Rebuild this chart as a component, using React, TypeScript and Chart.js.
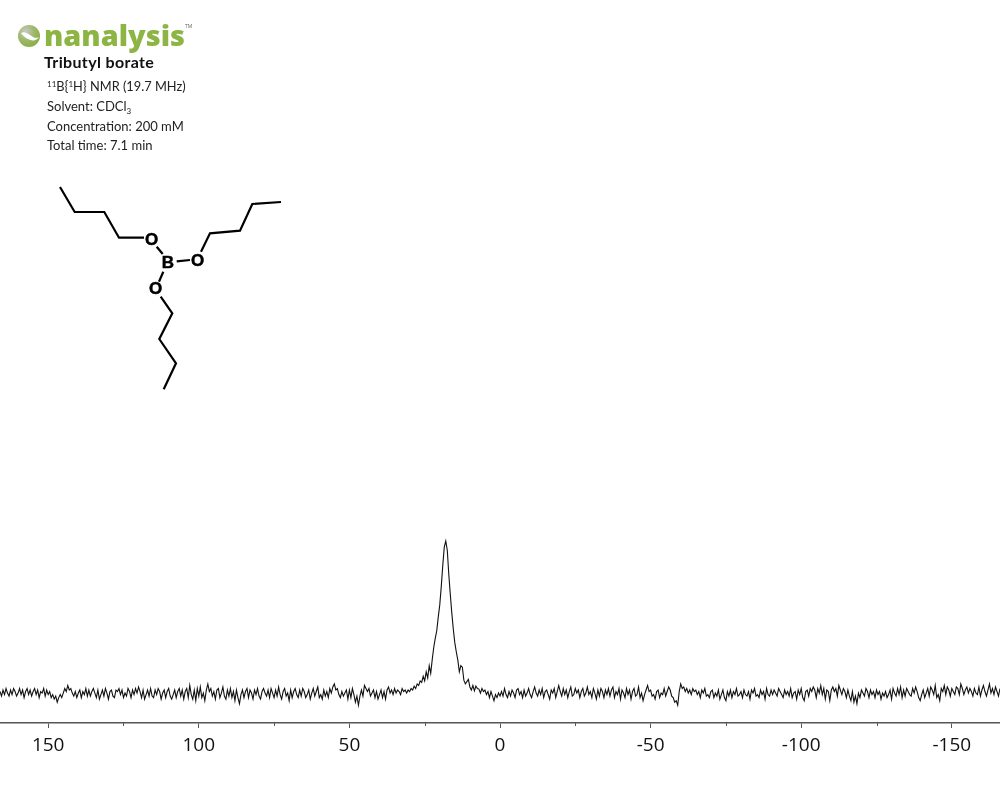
import React, { useEffect, useRef } from "react";
import { Chart, registerables } from "chart.js";

Chart.register(...registerables);

const majorTicks = [150, 100, 50, 0, -50, -100, -150];
const minorTicks = [125, 75, 25, -25, -75, -125];
const firstShift = 166;
const shiftStep = 0.5;

// Relative intensity, one value per 0.5 ppm, from 166 ppm to 31 ppm (main peak = 100)
const baselineLeft = [
  1, -2, 2, -1, 3, 0, -2, 2, -1, 3, 1, -2, 0, 3, -1, 2, -3, 1, 3, -1,
  2, -2, 1, 3, -1, 2, -3, 1, 0, 3, -2, 2, -1, 1, -3, -1, -4, -2, -6, -3,
  -1, -3, 0, 3, 1, 5, 2, 3, 0, -2, 1, -3, 0, 2, -3, 1, -1, 3, -2, 2,
  -2, 1, 3, 0, -3, 2, -4, -1, 2, -2, 3, 0, -4, 1, 2, -2, -3, 2, 1, 3,
  -1, 2, -3, 0, -2, 3, 1, -3, 2, -1, 3, 0, 4, 1, -3, 2, -4, -1, 2, -2,
  3, -2, -3, 2, -1, 3, 1, -4, 0, 2, -3, 1, 3, -2, -4, -1, 2, -3, 1, 3,
  -2, 2, -4, 1, 3, -3, 5, -1, -4, 2, -5, 3, -2, 4, -3, 0, -5, 2, 6, 1,
  3, -2, 1, -4, 2, 3, -3, 0, 4, -2, -4, 2, -2, 3, -3, 1, -5, 2, -3, -7,
  -1, 2, -3, 1, 3, -3, 2, 0, -4, 2, -1, 3, -2, -4, 1, 3, 0, -2, 2, -3,
  3, 0, -3, 2, -2, 4, -1, -4, 1, 3, -2, 0, -5, 2, -3, 1, 3, -1, -3, 2,
  -2, 3, 1, -3, -1, 2, -4, 0, 3, -2, 1, 4, -3, -1, -4, 2, -2, 1, -3, 3,
  0, 4, 6, 2, 3, -1, -3, 1, -2, 0, 2, -4, 2, -3, 3, -1, -6, -2, -8, -2,
  2, -2, 5, 3, 1, 3, -2, 0, 2, -3, 1, -4, -1, 2, -3, 1, -4, 2, 4, 0,
  2, -1, 3, 0, 2, 1, -1, 3, 1, 2, 0,
];

// 30.5 ppm to 0 ppm
const mainPeak = [
  2, 1, 3, 2, 4.5, 3, 6, 5, 8, 7, 11, 8, 14, 10, 18, 13,
  22, 30, 36, 41, 50, 58, 70, 84, 96, 100, 94, 78, 65, 52.6, 42, 33,
  27, 21.7, 14, 18, 17, 8.5, 6, 7.5, 9, 4, 2, 5, 1.5, 4.6, 3, 2.6,
  0, 3, 1, 2, -1, 1, -3, 1, -2, -5, -1, -3, 0, -2,
];

// -0.5 ppm to -166 ppm
const baselineRight = [
  1, -2, 3, -1, -3, 1, -2, 2, 0, -3, 2, 3, -1, 1, -3, 2, -2, 0, 3, -1,
  -3, 1, 4, 0, -2, 2, -1, 3, -3, 1, 2, -1, -4, 2, 0, 3, -3, 1, 5, 1,
  -2, 3, -1, 2, -3, 1, 4, -2, -1, 3, 0, 2, -3, 1, 3, -2, 0, 4, -1, 1,
  -3, 3, 0, -4, 2, -2, 3, 1, -3, 2, -1, 3, -2, 2, 4, -3, 1, -1, 3, -4,
  2, 0, -3, 3, -1, 2, -4, 1, 3, -2, -1, 4, -3, 0, -5, -1, 2, 5, 1, 2,
  -2, -1, -4, 1, 2, -3, 0, -1, 3, -2, 1, 4, 2, -2, -3, -6, -5, -8, 1, 6,
  3, 4, 1, 3, 0, 2, -1, 3, 1, 2, -1, 1, -3, 2, 0, 3, -2, -1, -3, 1,
  2, -3, 0, -2, 2, -4, -1, 2, -3, -5, 1, -2, 2, -3, 1, -1, 3, -2, -1, 1,
  -3, 2, -1, -2, 1, -4, 2, 0, 3, -2, -1, -3, 2, -1, 1, -4, 3, -1, -2, 2,
  -1, 2, 0, -2, 3, 1, -1, -3, 2, -1, 1, -2, 3, -3, 0, 1, -4, 2, -1, 3,
  -3, -5, 1, 2, -2, 3, 1, 4, 2, -3, 3, 0, 5, -1, 3, -4, 2, 1, -5, 2,
  4, 1, 3, -2, 5, 2, -1, 3, 1, -3, 2, -2, -5, 1, -6, -2, -7, 0, -3, 2,
  0, -2, 3, 1, -3, 2, -1, 1, -3, 2, -1, 1, -4, 0, -2, 1, -3, -1, 2, -4,
  3, 0, -2, 3, -1, 4, -3, 2, -2, 3, 1, -1, -2, 3, 0, 4, 1, -3, -5, -1,
  2, -3, 0, 3, -2, 4, 2, -1, 5, -3, -1, -5, 3, 1, 5, -1, 4, 2, -2, 3,
  1, -1, 4, 3, -1, 6, 3, -1, 2, 4, 0, 3, 1, -2, 3, 0, -1, 4, -2, 2,
  5, 1, -2, 2, 6, 0, 3, -1, 4, 1, -2, 3,
];

const intensity = [...baselineLeft, ...mainPeak, ...baselineRight];

const TITLE = "Tributyl borate";

function Atom({ x, y, t }: { x: number; y: number; t: string }) {
  return (
    <text x={x} y={y} textAnchor="middle" dominantBaseline="central"
      fontFamily="'Liberation Sans'" fontWeight="700" fontSize="17" fill="#000" stroke="#000" strokeWidth={0.5}>{t}</text>
  );
}

export default function App() {
  const ref = useRef<HTMLCanvasElement | null>(null);

  useEffect(() => {
    document.body.style.margin = "0";
    const minorTickPlugin = {
      id: "minorTicks",
      afterDraw(chart: any) {
        const { ctx, scales, chartArea } = chart;
        ctx.save();
        ctx.strokeStyle = "#555";
        ctx.lineWidth = 1;
        minorTicks.forEach((v) => {
          const px = Math.round(scales.x.getPixelForValue(v)) + 0.5;
          ctx.beginPath();
          ctx.moveTo(px, chartArea.bottom);
          ctx.lineTo(px, chartArea.bottom + 3);
          ctx.stroke();
        });
        ctx.restore();
      },
    };
    const chart = new Chart(ref.current as HTMLCanvasElement, {
      type: "line",
      data: {
        datasets: [
          {
            label: TITLE,
            data: intensity.map((y, i) => ({ x: firstShift - i * shiftStep, y })),
            borderColor: "#111",
            borderWidth: 1.1,
            pointRadius: 0,
            tension: 0,
          },
        ],
      },
      options: {
        animation: false,
        responsive: false,
        parsing: false,
        layout: { padding: 0 },
        plugins: { legend: { display: false }, tooltip: { enabled: false }, title: { display: false } },
        scales: {
          x: {
            type: "linear",
            reverse: true,
            min: -166,
            max: 166,
            afterBuildTicks(scale: any) {
              scale.ticks = majorTicks.map((value) => ({ value }));
            },
            afterFit(scale: any) {
              scale.height = 63;
              scale.paddingLeft = 0;
              scale.paddingRight = 0;
            },
            border: { display: true, color: "#555", width: 1.5 },
            grid: { display: true, drawOnChartArea: false, drawTicks: true, tickLength: 5, tickColor: "#555" },
            ticks: {
              autoSkip: false,
              maxRotation: 0,
              padding: 6,
              color: "#111",
              font: { family: "'Open Sans'", size: 19 },
              callback: (v: any) => String(v),
            },
          },
          y: { display: false, min: -19.7, max: 456 },
        },
      },
      plugins: [minorTickPlugin],
    } as any);
    return () => chart.destroy();
  }, []);

  const lineStyle: React.CSSProperties = {
    position: "absolute",
    left: 47,
    fontFamily: "Lato",
    fontSize: 13,
    lineHeight: "16px",
    color: "#222",
    whiteSpace: "nowrap",
  };
  const sup: React.CSSProperties = { fontSize: 8, verticalAlign: 4, lineHeight: 0 };
  const sub: React.CSSProperties = { fontSize: 8, verticalAlign: -3, lineHeight: 0 };

  return (
    <div style={{ position: "relative", width: 1000, height: 786, overflow: "hidden", background: "#fff" }}>
      <canvas ref={ref} width={1000} height={786} style={{ position: "absolute", left: 0, top: 0 }} />
      <svg width={1000} height={786} style={{ position: "absolute", left: 0, top: 0 }}>
        <defs>
          <radialGradient id="ball" cx="0.35" cy="0.3" r="0.8">
            <stop offset="0" stopColor="#c9c9c4" />
            <stop offset="0.5" stopColor="#9db86a" />
            <stop offset="1" stopColor="#84ad3c" />
          </radialGradient>
        </defs>
        <circle cx={29} cy={36} r={11} fill="url(#ball)" />
        <path d="M21 33 C27 29 33 41 39 37 C35 44 25 39 21 33 Z" fill="#fff" />
        <text x={44} y={46} fontFamily="'Open Sans'" fontWeight="800" fontSize="29" fill="#8db544"
          textLength={141} lengthAdjust="spacingAndGlyphs">nanalysis</text>
        <text x={185} y={28} fontFamily="'Open Sans'" fontSize="5" fill="#666">TM</text>

        <g fill="none" stroke="#000" strokeWidth={2.2} strokeLinejoin="miter">
          <polyline points="60,187 74.7,212 104.3,212 119,237.7 144,237.7" />
          <polyline points="156.7,246.7 162.7,254" />
          <polyline points="176.7,261.3 190,260" />
          <polyline points="201,251.7 210,233.3 240,230.7 252.3,204 281,202" />
          <polyline points="163.3,271.7 159,281.7" />
          <polyline points="160.7,296.7 172.3,313.3 159.3,339 176,363.3 163.7,389.3" />
        </g>
        <Atom x={151.5} y={239} t="O" />
        <Atom x={168} y={262.5} t="B" />
        <Atom x={197.5} y={260.5} t="O" />
        <Atom x={155.5} y={288.7} t="O" />
      </svg>
      <div style={{ ...lineStyle, left: 44, top: 54, fontWeight: 700, fontSize: 16, letterSpacing: 0.35, color: "#111" }}>{TITLE}</div>
      <div style={{ ...lineStyle, top: 78, fontSize: 12.8 }}>
        <span style={sup}>11</span>B{"{"}<span style={sup}>1</span>H{"}"} NMR (19.7 MHz)
      </div>
      <div style={{ ...lineStyle, top: 98 }}>
        Solvent: CDCl<span style={sub}>3</span>
      </div>
      <div style={{ ...lineStyle, top: 118 }}>Concentration: 200 mM</div>
      <div style={{ ...lineStyle, top: 137 }}>Total time: 7.1 min</div>
    </div>
  );
}
